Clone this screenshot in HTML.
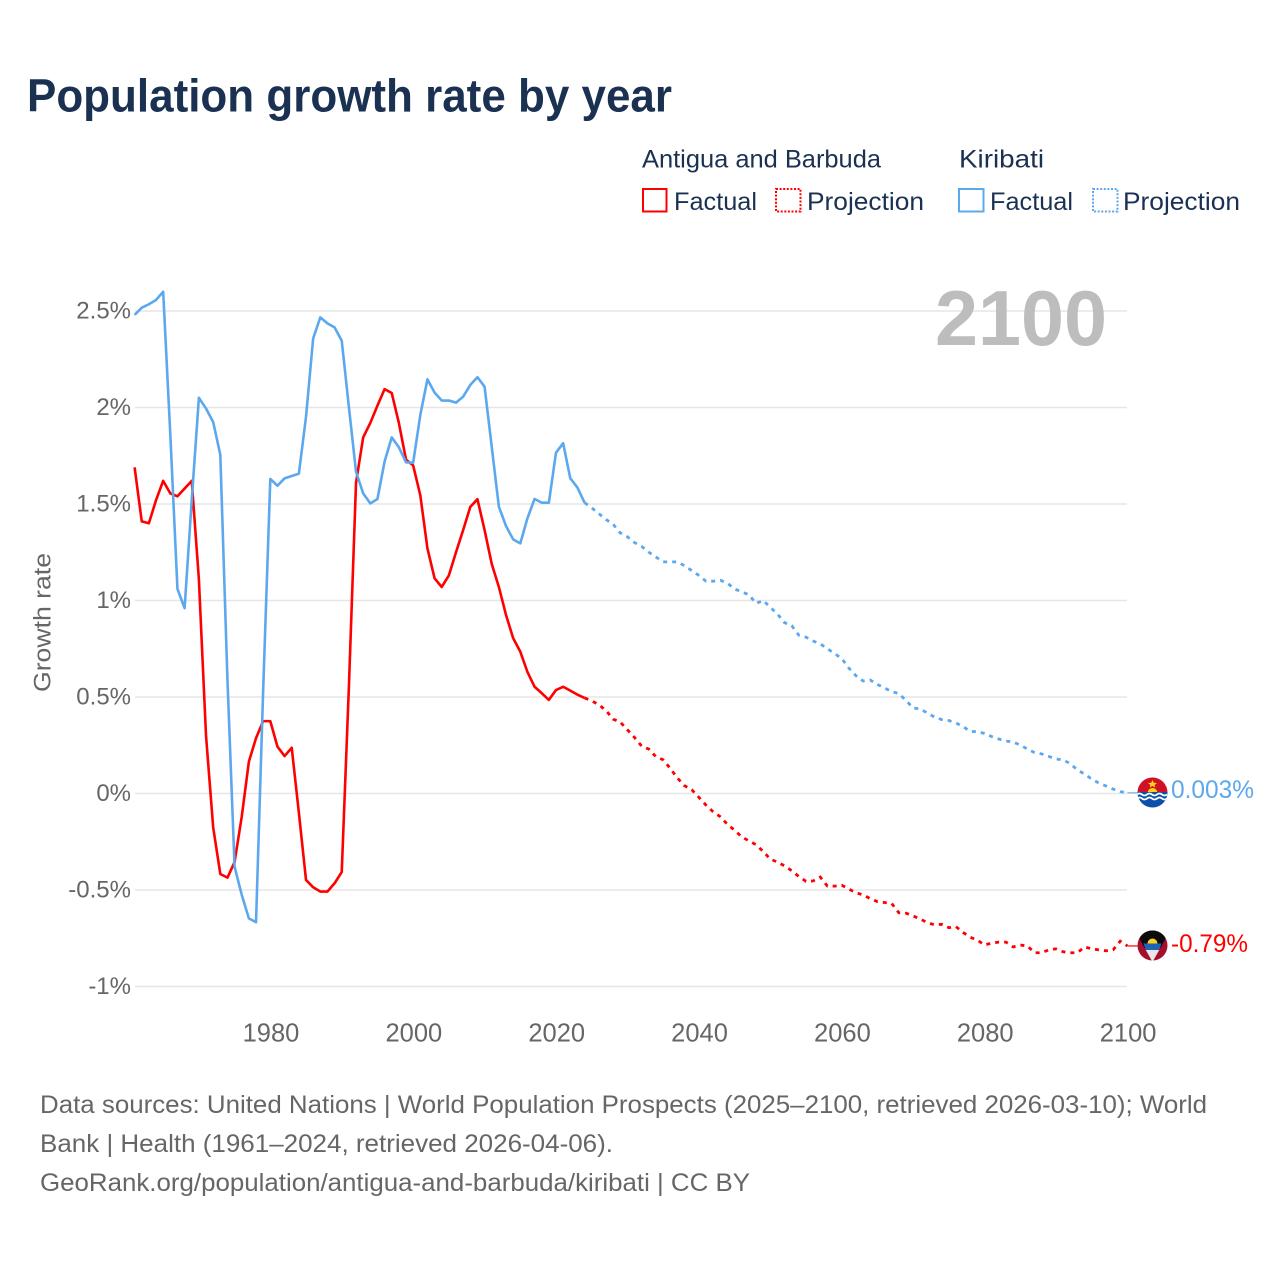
<!DOCTYPE html>
<html lang="en">
<head>
<meta charset="utf-8">
<title>Population growth rate by year</title>
<style>
html,body{margin:0;padding:0;background:#fff;}
svg{display:block;}
text{font-family:"Liberation Sans",sans-serif;}
</style>
</head>
<body>
<svg id="chart" xmlns="http://www.w3.org/2000/svg" width="1280" height="1280" viewBox="0 0 1280 1280">
  <rect x="0" y="0" width="1280" height="1280" fill="#ffffff"/>
  <text x="27" y="111.5" font-size="46" font-weight="700" fill="#1a3152" textLength="645" lengthAdjust="spacingAndGlyphs">Population growth rate by year</text>

  <g fill="#1a3152" font-size="25">
    <text x="642" y="167.5" textLength="239" lengthAdjust="spacingAndGlyphs">Antigua and Barbuda</text>
    <text x="959" y="167.5" textLength="85" lengthAdjust="spacingAndGlyphs">Kiribati</text>
    <g>
      <rect x="643" y="189" width="23.5" height="22.5" fill="none" stroke="#ff0000" stroke-width="2"/>
      <text x="674" y="210" textLength="83" lengthAdjust="spacingAndGlyphs">Factual</text>
    </g>
    <g>
      <rect x="776" y="189" width="24.5" height="22.5" fill="none" stroke="#ff0000" stroke-width="2" stroke-dasharray="2 1.6"/>
      <text x="807" y="210" textLength="117" lengthAdjust="spacingAndGlyphs">Projection</text>
    </g>
    <g>
      <rect x="959" y="189" width="24.5" height="22.5" fill="none" stroke="#5ca8ee" stroke-width="2"/>
      <text x="990" y="210" textLength="83" lengthAdjust="spacingAndGlyphs">Factual</text>
    </g>
    <g>
      <rect x="1093" y="189" width="24.5" height="22.5" fill="none" stroke="#5ca8ee" stroke-width="2" stroke-dasharray="2 1.6"/>
      <text x="1123" y="210" textLength="117" lengthAdjust="spacingAndGlyphs">Projection</text>
    </g>
  </g>

  <g id="grid"></g>
  <text x="935" y="345" font-size="78" font-weight="700" fill="#bdbdbd" textLength="172" lengthAdjust="spacingAndGlyphs">2100</text>
  <g id="yticks"></g>
  <g id="xticks"></g>
  <text transform="translate(50.5,622.5) rotate(-90)" text-anchor="middle" font-size="24" fill="#666666" textLength="139" lengthAdjust="spacingAndGlyphs">Growth rate</text>
  <g id="series"></g>

  <defs>
    <clipPath id="flag-clip-k"><circle cx="1152.5" cy="792.5" r="15"/></clipPath>
    <clipPath id="flag-clip-a"><circle cx="1152.5" cy="945.5" r="15"/></clipPath>
  </defs>
  <g clip-path="url(#flag-clip-k)">
    <rect x="1137" y="777" width="31" height="16" fill="#ce1126"/>
    <circle cx="1152.5" cy="793" r="5" fill="#fcd116"/>
    <polygon points="1152.5,780 1153.8,782.8 1157,783 1154.6,785 1155.3,787.5 1152.5,786 1149.7,787.5 1150.4,785 1148,783 1151.2,782.8" fill="#fcd116"/>
    <rect x="1137" y="792" width="31" height="17" fill="#0a4fa8"/>
    <path d="M1137 794.5 q2.5 -2 5 0 t5 0 t5 0 t5 0 t5 0 t5 0" fill="none" stroke="#ffffff" stroke-width="1.8"/>
    <path d="M1137 798.5 q2.5 -2 5 0 t5 0 t5 0 t5 0 t5 0 t5 0" fill="none" stroke="#ffffff" stroke-width="1.8"/>
  </g>
  <g clip-path="url(#flag-clip-a)">
    <rect x="1137" y="930" width="31" height="31" fill="#a50e2d"/>
    <polygon points="1137,930 1168,930 1168,934 1160.5,948 1144.5,948 1137,934" fill="#0b0b0b"/>
    <circle cx="1152.5" cy="943.5" r="5" fill="#fcd116"/>
    <polygon points="1143.5,943.5 1161.5,943.5 1159,950.5 1146,950.5" fill="#1f63b5"/>
    <polygon points="1145.8,950 1159.2,950 1152.5,962" fill="#e8e8e8"/>
  </g>

  <text x="1171" y="798" font-size="25" fill="#5ca8ee" textLength="83" lengthAdjust="spacingAndGlyphs">0.003%</text>
  <text x="1171" y="952" font-size="25" fill="#ff0000" textLength="77" lengthAdjust="spacingAndGlyphs">-0.79%</text>

  <g font-size="25" fill="#666666">
    <text x="40" y="1113" textLength="1167" lengthAdjust="spacingAndGlyphs">Data sources: United Nations | World Population Prospects (2025–2100, retrieved 2026-03-10); World</text>
    <text x="40" y="1152" textLength="573" lengthAdjust="spacingAndGlyphs">Bank | Health (1961–2024, retrieved 2026-04-06).</text>
    <text x="40" y="1191" textLength="710" lengthAdjust="spacingAndGlyphs">GeoRank.org/population/antigua-and-barbuda/kiribati | CC BY</text>
  </g>
</svg>
<script>
const firstYear = 1961;
const projectionStartYear = 2025;
const yTickValues = [2.5, 2, 1.5, 1, 0.5, 0, -0.5, -1];
const yTickLabels = ["2.5%", "2%", "1.5%", "1%", "0.5%", "0%", "-0.5%", "-1%"];
const xTickYears = [1980, 2000, 2020, 2040, 2060, 2080, 2100];

const antiguaFactual = [1.69,1.41,1.40,1.52,1.62,1.555,1.54,1.58,1.62,1.11,0.30,-0.175,-0.417,-0.436,-0.355,-0.12,0.165,0.287,0.375,0.375,0.243,0.194,0.237,-0.10,-0.448,-0.486,-0.508,-0.508,-0.465,-0.407,0.55,1.61,1.845,1.92,2.01,2.095,2.075,1.92,1.73,1.70,1.545,1.27,1.115,1.07,1.13,1.25,1.365,1.485,1.525,1.365,1.19,1.07,0.925,0.805,0.735,0.63,0.553,0.52,0.485,0.536,0.553,0.533,0.512,0.495];

const antiguaProjection = [0.48,0.46,0.43,0.385,0.37,0.33,0.29,0.245,0.23,0.19,0.175,0.13,0.08,0.04,0.02,-0.02,-0.06,-0.095,-0.12,-0.16,-0.19,-0.225,-0.245,-0.265,-0.30,-0.34,-0.355,-0.375,-0.40,-0.43,-0.455,-0.453,-0.433,-0.48,-0.48,-0.475,-0.495,-0.515,-0.525,-0.545,-0.56,-0.565,-0.57,-0.618,-0.62,-0.635,-0.65,-0.67,-0.68,-0.678,-0.695,-0.69,-0.72,-0.745,-0.76,-0.785,-0.775,-0.77,-0.77,-0.795,-0.785,-0.79,-0.825,-0.825,-0.81,-0.805,-0.82,-0.825,-0.825,-0.795,-0.805,-0.81,-0.815,-0.81,-0.765,-0.79];

const kiribatiFactual = [2.48,2.517,2.535,2.557,2.60,1.86,1.06,0.96,1.52,2.05,1.995,1.925,1.755,0.59,-0.38,-0.525,-0.647,-0.667,0.535,1.63,1.595,1.633,1.645,1.657,1.952,2.358,2.467,2.436,2.415,2.346,2.004,1.667,1.555,1.503,1.526,1.72,1.845,1.794,1.716,1.714,1.961,2.146,2.077,2.036,2.036,2.025,2.056,2.117,2.157,2.108,1.797,1.486,1.386,1.317,1.296,1.426,1.526,1.507,1.507,1.766,1.815,1.633,1.585,1.507];

const kiribatiProjection = [1.48,1.45,1.42,1.395,1.35,1.33,1.30,1.28,1.25,1.225,1.20,1.20,1.20,1.18,1.155,1.13,1.10,1.10,1.105,1.09,1.06,1.045,1.03,0.985,1.0,0.965,0.93,0.885,0.87,0.82,0.81,0.79,0.775,0.75,0.725,0.70,0.65,0.61,0.583,0.588,0.565,0.547,0.528,0.518,0.482,0.443,0.438,0.417,0.396,0.383,0.378,0.365,0.347,0.321,0.321,0.311,0.295,0.282,0.272,0.267,0.251,0.23,0.212,0.205,0.192,0.179,0.174,0.155,0.122,0.101,0.075,0.054,0.039,0.023,0.01,0.003];

const SVG_NS = "http://www.w3.org/2000/svg";
function xScale(year) { return 134.6 + (year - 1961) * (1127.4 - 134.6) / 139; }
function yScale(value) { return 793.5 - value * 193; }

function buildPoints(values, startYear) {
  return values.map(function (v, i) {
    return xScale(startYear + i).toFixed(2) + "," + yScale(v).toFixed(2);
  }).join(" ");
}

const gridGroup = document.getElementById("grid");
const yTickGroup = document.getElementById("yticks");
const xTickGroup = document.getElementById("xticks");
const seriesGroup = document.getElementById("series");

yTickValues.forEach(function (value, i) {
  const line = document.createElementNS(SVG_NS, "line");
  
  
  line.setAttribute("x1", 135);
  line.setAttribute("x2", 1127);
  line.setAttribute("y1", yScale(value));
  line.setAttribute("y2", yScale(value));
  line.setAttribute("stroke", "#e6e6e6");
  line.setAttribute("stroke-width", "1.4");
  gridGroup.appendChild(line);

  const label = document.createElementNS(SVG_NS, "text");
  
  
  label.setAttribute("x", 131);
  label.setAttribute("y", yScale(value) + 7.5);
  label.setAttribute("text-anchor", "end");
  label.setAttribute("font-size", "24");
  label.setAttribute("fill", "#666666");
  label.textContent = yTickLabels[i];
  yTickGroup.appendChild(label);
});

xTickYears.forEach(function (year) {
  const label = document.createElementNS(SVG_NS, "text");
  
  
  label.setAttribute("x", xScale(year) + 0.7);
  label.setAttribute("y", 1041.5);
  label.setAttribute("text-anchor", "middle");
  label.setAttribute("font-size", "25.5");
  label.setAttribute("fill", "#666666");
  label.textContent = String(year);
  xTickGroup.appendChild(label);
});

function drawSeries(name, color, factual, projection) {
  const solid = document.createElementNS(SVG_NS, "polyline");
  
  
  solid.setAttribute("points", buildPoints(factual, firstYear));
  solid.setAttribute("fill", "none");
  solid.setAttribute("stroke", color);
  solid.setAttribute("stroke-width", "2.6");
  solid.setAttribute("stroke-linejoin", "round");
  seriesGroup.appendChild(solid);

  const joined = [factual[factual.length - 1]].concat(projection);
  const dashed = document.createElementNS(SVG_NS, "polyline");
  
  
  dashed.setAttribute("points", buildPoints(joined, projectionStartYear - 1));
  dashed.setAttribute("fill", "none");
  dashed.setAttribute("stroke", color);
  dashed.setAttribute("stroke-width", "2.8");
  dashed.setAttribute("stroke-dasharray", "4 5");
  seriesGroup.appendChild(dashed);

  const endValue = projection[projection.length - 1];
  const leader = document.createElementNS(SVG_NS, "line");
  
  
  leader.setAttribute("x1", xScale(2100));
  leader.setAttribute("x2", xScale(2100) + 10);
  leader.setAttribute("y1", yScale(endValue));
  leader.setAttribute("y2", yScale(endValue));
  leader.setAttribute("stroke", color);
  leader.setAttribute("stroke-width", "1.2");
  seriesGroup.appendChild(leader);
}

drawSeries("antigua", "#ff0000", antiguaFactual, antiguaProjection);
drawSeries("kiribati", "#5ca8ee", kiribatiFactual, kiribatiProjection);
</script>
</body>
</html>
